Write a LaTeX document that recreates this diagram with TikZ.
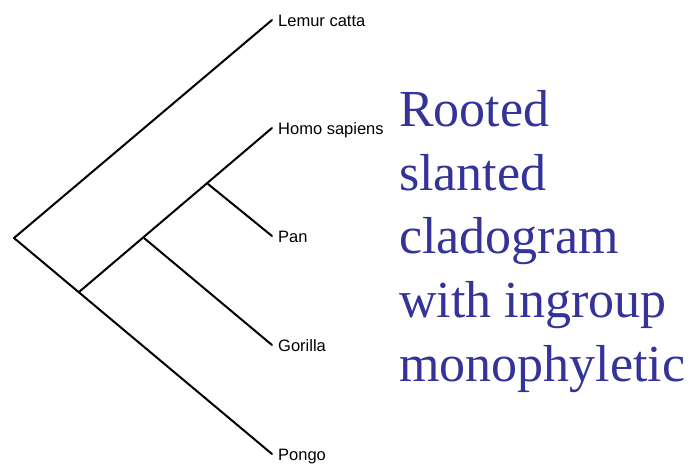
\documentclass[tikz,border=0pt]{standalone}
\usepackage{fontspec}
\setmainfont{Liberation Serif}
\newfontfamily\taxonfont{Liberation Sans}
\definecolor{titleblue}{RGB}{51,51,153}
\begin{document}
\begin{tikzpicture}[x=1pt,y=-1pt,
  branch/.style={line width=2pt,line cap=round,line join=round},
  taxon/.style={anchor=base west,inner sep=0pt,font=\taxonfont\fontsize{16.5}{16.5}\selectfont},
  caption/.style={anchor=north west,inner sep=0pt,align=left,text=titleblue,
    font=\fontsize{52}{63.75}\selectfont}]
  \useasboundingbox (0,0) rectangle (692,464);
  % tips
  \coordinate (lemur) at (272,20);
  \coordinate (homo) at (272,128);
  \coordinate (pan) at (272,236);
  \coordinate (gorilla) at (272,345);
  \coordinate (pongo) at (272,454);
  % internal nodes
  \coordinate (root) at (14,238);
  \coordinate (n1) at (79,292);
  \coordinate (n2) at (144,238);
  \coordinate (n3) at (208,184);
  % branches
  \draw[branch] (lemur) -- (root) -- (pongo);
  \draw[branch] (n1) -- (homo);
  \draw[branch] (n2) -- (gorilla);
  \draw[branch] (n3) -- (pan);
  % labels, baseline a little below each tip
  \node[taxon] (tl) at ([shift={(6pt,-6pt)}]lemur) {Lemur catta};
  \node[taxon] (th) at ([shift={(6pt,-6pt)}]homo) {Homo sapiens};
  \node[taxon] (tp) at ([shift={(6pt,-6pt)}]pan) {Pan};
  \node[taxon] (tg) at ([shift={(6pt,-6pt)}]gorilla) {Gorilla};
  \node[taxon] (tpo) at ([shift={(6pt,-6pt)}]pongo) {Pongo};
  \node[caption] (cap) at (399,90) {Rooted\\slanted\\cladogram\\with ingroup\\monophyletic};
\end{tikzpicture}
\end{document}
